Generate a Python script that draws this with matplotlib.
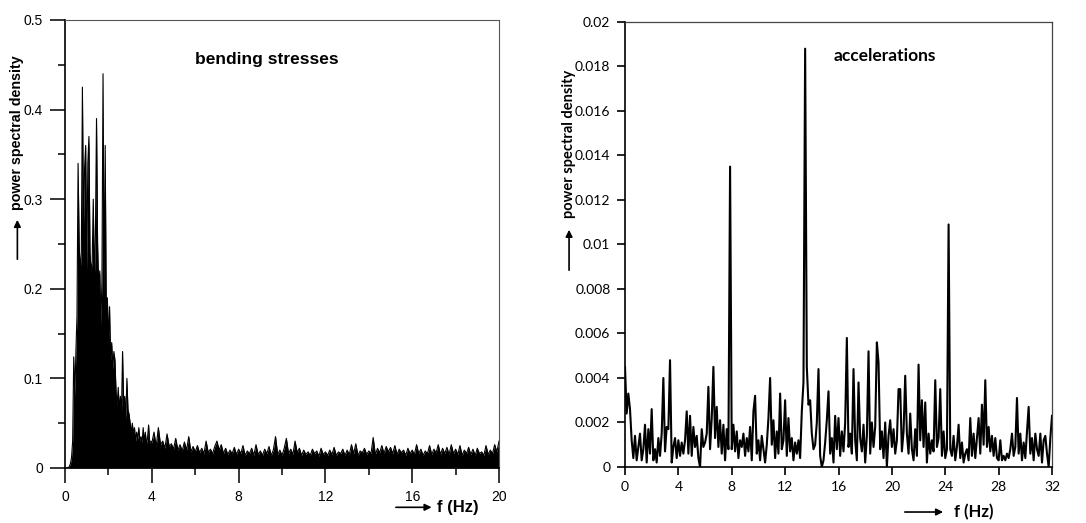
import numpy as np
import matplotlib
matplotlib.use("Agg")
import matplotlib.pyplot as plt
from matplotlib.patches import FancyArrowPatch
from matplotlib.ticker import MultipleLocator

# bending stresses, 0 - 4 Hz every 0.05 Hz
psd_bend_low = [
    0, 0, 0, 0, 0.002, 0.005, 0.012, 0.03, 0.124, 0.08,
    0.13, 0.17, 0.34, 0.25, 0.22, 0.24, 0.425, 0.27, 0.335, 0.36,
    0.22, 0.34, 0.37, 0.24, 0.22, 0.23, 0.30, 0.21, 0.26, 0.39,
    0.25, 0.20, 0.22, 0.16, 0.21, 0.44, 0.19, 0.36, 0.17, 0.19,
    0.14, 0.18, 0.12, 0.14, 0.11, 0.13, 0.12, 0.085, 0.07, 0.09,
    0.065, 0.08, 0.06, 0.13, 0.07, 0.08, 0.055, 0.10, 0.065, 0.06,
    0.05, 0.04, 0.05, 0.038, 0.045, 0.03, 0.04, 0.032, 0.045, 0.03,
    0.035, 0.028, 0.045, 0.03, 0.04, 0.027, 0.033, 0.048, 0.028, 0.03,
]
# bending stresses, 4 - 20 Hz every 0.1 Hz
psd_bend_high = [
    0.028, 0.040, 0.024, 0.045, 0.026, 0.030, 0.022, 0.038, 0.024, 0.027,
    0.021, 0.033, 0.020, 0.026, 0.019, 0.029, 0.020, 0.035, 0.018, 0.024,
    0.018, 0.025, 0.017, 0.022, 0.016, 0.030, 0.017, 0.021, 0.016, 0.024,
    0.030, 0.020, 0.026, 0.016, 0.022, 0.015, 0.020, 0.016, 0.023, 0.015,
    0.021, 0.016, 0.025, 0.014, 0.019, 0.016, 0.022, 0.014, 0.026, 0.015,
    0.019, 0.014, 0.021, 0.016, 0.024, 0.014, 0.020, 0.035, 0.015, 0.020,
    0.014, 0.022, 0.033, 0.016, 0.021, 0.015, 0.030, 0.017, 0.022, 0.014,
    0.020, 0.015, 0.018, 0.014, 0.021, 0.016, 0.019, 0.013, 0.022, 0.015,
    0.018, 0.014, 0.020, 0.015, 0.023, 0.014, 0.018, 0.016, 0.021, 0.014,
    0.020, 0.015, 0.026, 0.016, 0.027, 0.014, 0.019, 0.017, 0.022, 0.015,
    0.019, 0.016, 0.034, 0.015, 0.022, 0.017, 0.025, 0.016, 0.024, 0.018,
    0.023, 0.016, 0.025, 0.015, 0.021, 0.017, 0.020, 0.014, 0.022, 0.016,
    0.020, 0.015, 0.026, 0.016, 0.021, 0.014, 0.019, 0.016, 0.025, 0.015,
    0.021, 0.017, 0.026, 0.015, 0.022, 0.016, 0.023, 0.015, 0.026, 0.016,
    0.021, 0.015, 0.025, 0.014, 0.020, 0.016, 0.023, 0.015, 0.021, 0.014,
    0.022, 0.016, 0.018, 0.014, 0.025, 0.015, 0.020, 0.016, 0.026, 0.018,
    0.030,
]

# accelerations, 0 - 32 Hz every 0.125 Hz, in units of 1e-3
psd_acc_milli = [
    4.5, 2.4, 3.3, 2.6, 1.2, 0.4, 1.4, 0.3,
    0.9, 1.5, 0.3, 0.8, 1.9, 0.2, 1.7, 0.6,
    2.6, 0.3, 0.8, 0.2, 1.3, 0.5, 1.5, 4.0,
    0.7, 1.8, 1.7, 4.8, 0.2, 0.9, 1.3, 0.4,
    1.2, 0.5, 1.1, 0.6, 1.2, 2.5, 0.6, 2.3,
    0.5, 1.8, 0.9, 1.4, 0.4, 0.0, 1.7, 0.9,
    1.1, 1.5, 3.6, 0.8, 2.2, 4.5, 1.3, 2.7,
    0.9, 2.1, 0.6, 1.9, 0.3, 1.7, 0.8, 13.5,
    0.8, 1.9, 0.7, 1.6, 0.4, 1.2, 0.9, 1.5,
    0.5, 1.3, 0.7, 1.8, 0.3, 2.5, 3.2, 0.6,
    1.2, 0.3, 1.4, 0.8, 0.2, 1.0, 2.2, 4.0,
    1.0, 2.1, 0.4, 1.6, 0.6, 3.3, 0.8, 1.2,
    3.0, 0.5, 2.2, 0.7, 1.3, 0.3, 1.1, 0.6,
    1.2, 0.4, 2.5, 3.8, 18.8, 4.5, 2.8, 3.0,
    1.5, 0.8, 1.0, 2.0, 4.4, 0.5, 0.0, 0.3,
    1.1, 2.1, 3.4, 0.6, 1.3, 0.2, 2.3, 0.8,
    2.2, 0.5, 1.6, 0.7, 2.0, 5.8, 0.9, 1.5,
    0.6, 4.4, 1.2, 0.3, 3.8, 1.3, 0.7, 1.9,
    0.2, 1.4, 5.2, 0.6, 2.0, 0.9, 1.8, 5.6,
    4.7, 0.8, 1.6, 0.4, 2.0, 0.0, 1.4, 2.1,
    0.9, 1.7, 0.6, 1.2, 3.5, 3.5, 0.7, 1.6,
    4.1, 1.5, 0.6, 2.4, 0.8, 0.3, 1.7, 0.5,
    4.6, 1.2, 3.0, 0.9, 2.9, 0.2, 1.5, 0.6,
    1.2, 0.7, 3.9, 0.9, 1.3, 3.5, 0.5, 1.6,
    0.4, 0.8, 10.9, 0.8, 0.5, 1.4, 0.3, 0.9,
    1.9, 0.4, 1.1, 0.2, 0.6, 0.8, 0.3, 2.2,
    0.5, 1.5, 0.4, 1.3, 2.2, 0.6, 2.8, 1.0,
    3.9, 0.9, 1.8, 0.7, 1.4, 0.5, 1.3, 0.4,
    0.3, 1.2, 0.3, 0.5, 0.3, 0.6, 0.4, 0.8,
    1.5, 0.5, 0.9, 3.1, 0.6, 1.5, 0.3, 1.1,
    0.4, 1.6, 2.7, 0.6, 1.3, 0.3, 1.5, 0.8,
    0.5, 1.5, 0.2, 1.2, 1.4, 0.6, 0.0, 1.3,
    2.3,
]

f_bend = np.concatenate([np.arange(len(psd_bend_low)) * 0.05,
                         4 + np.arange(len(psd_bend_high)) * 0.1])
psd_bend = np.array(psd_bend_low + psd_bend_high)
f_acc = np.arange(len(psd_acc_milli)) * 0.125
psd_acc = np.array(psd_acc_milli) / 1000.0

fig = plt.figure(figsize=(10.86, 5.23), dpi=100)

# ---- left: bending stresses ----
arial = "Liberation Sans"
ax1 = fig.add_axes([0.0599, 0.1052, 0.3996, 0.8566])
ax1.fill_between(f_bend, 0, psd_bend, color="black", lw=0)
ax1.plot(f_bend, psd_bend, color="black", lw=0.8)
ax1.set_xlim(0, 20)
ax1.set_ylim(0, 0.5)
ax1.xaxis.set_major_locator(MultipleLocator(4))
ax1.xaxis.set_minor_locator(MultipleLocator(2))
ax1.yaxis.set_major_locator(MultipleLocator(0.1))
ax1.yaxis.set_minor_locator(MultipleLocator(0.05))
# tick lengths / pads are in points (1 pt = 1.39 px here)
ax1.tick_params(which="major", direction="out", length=10.5, width=1.1, labelsize=10)
ax1.tick_params(which="minor", direction="out", length=5, width=1.1)
ax1.tick_params(axis="y", pad=5.5)
ax1.tick_params(axis="x", pad=5)
ax1.set_xticklabels([f"{v:g}" for v in ax1.get_xticks()])
ax1.set_yticklabels(["0" if v == 0 else f"{v:.1f}" for v in ax1.get_yticks()])
for lab in ax1.get_xticklabels() + ax1.get_yticklabels():
    lab.set_family(arial)
for s in ["left", "bottom"]:
    ax1.spines[s].set_linewidth(1.2)
for s in ["top", "right"]:
    ax1.spines[s].set_linewidth(0.8)
    ax1.spines[s].set_color("#555555")
fig.text(0.2459, 0.887, "bending stresses", family=arial, weight="bold",
         fontsize=12.5, ha="center", va="center")

# ---- right: accelerations ----
calib = "Lato"
ax2 = fig.add_axes([0.5755, 0.1071, 0.3932, 0.8509])
ax2.plot(f_acc, psd_acc, color="black", lw=1.5)
ax2.set_xlim(0, 32)
ax2.set_ylim(0, 0.02)
ax2.xaxis.set_major_locator(MultipleLocator(4))
ax2.yaxis.set_major_locator(MultipleLocator(0.002))
ax2.tick_params(direction="out", length=5.5, width=1.2, labelsize=10)
ax2.tick_params(axis="y", pad=5)
ax2.tick_params(axis="x", pad=4.5)
ax2.set_xticklabels([f"{v:g}" for v in ax2.get_xticks()])
ax2.set_yticklabels(["0" if v == 0 else f"{v:g}" for v in ax2.get_yticks()])
for lab in ax2.get_xticklabels() + ax2.get_yticklabels():
    lab.set_family(calib)
for s in ["left", "bottom"]:
    ax2.spines[s].set_linewidth(1.2)
for s in ["top", "right"]:
    ax2.spines[s].set_linewidth(0.9)
    ax2.spines[s].set_color("#444444")
fig.text(0.815, 0.893, "accelerations", family=calib, weight="bold",
         fontsize=12.5, ha="center", va="center")

# ---- axis labels with arrows ----
arrow = dict(arrowstyle="-|>", color="black", lw=1.2, mutation_scale=10)
fig.text(0.0160, 0.747, "power spectral density", family=arial, weight="bold",
         fontsize=10.3, rotation=90, ha="center", va="center")
fig.add_artist(FancyArrowPatch((0.0160, 0.499), (0.0160, 0.585),
                               transform=fig.transFigure, **arrow))
fig.text(0.4217, 0.030, "f (Hz)", family=arial, weight="bold",
         fontsize=12, ha="center", va="center")
fig.add_artist(FancyArrowPatch((0.362, 0.030), (0.400, 0.030),
                               transform=fig.transFigure, **arrow))

fig.text(0.524, 0.724, "power spectral density", family=calib, weight="bold",
         fontsize=10.5, rotation=90, ha="center", va="center")
fig.add_artist(FancyArrowPatch((0.524, 0.478), (0.524, 0.566),
                               transform=fig.transFigure, **arrow))
fig.text(0.897, 0.021, "f (Hz)", family=calib, weight="bold",
         fontsize=12, ha="center", va="center")
fig.add_artist(FancyArrowPatch((0.8306, 0.021), (0.871, 0.021),
                               transform=fig.transFigure, **arrow))

fig.savefig("out.png", dpi=100)
